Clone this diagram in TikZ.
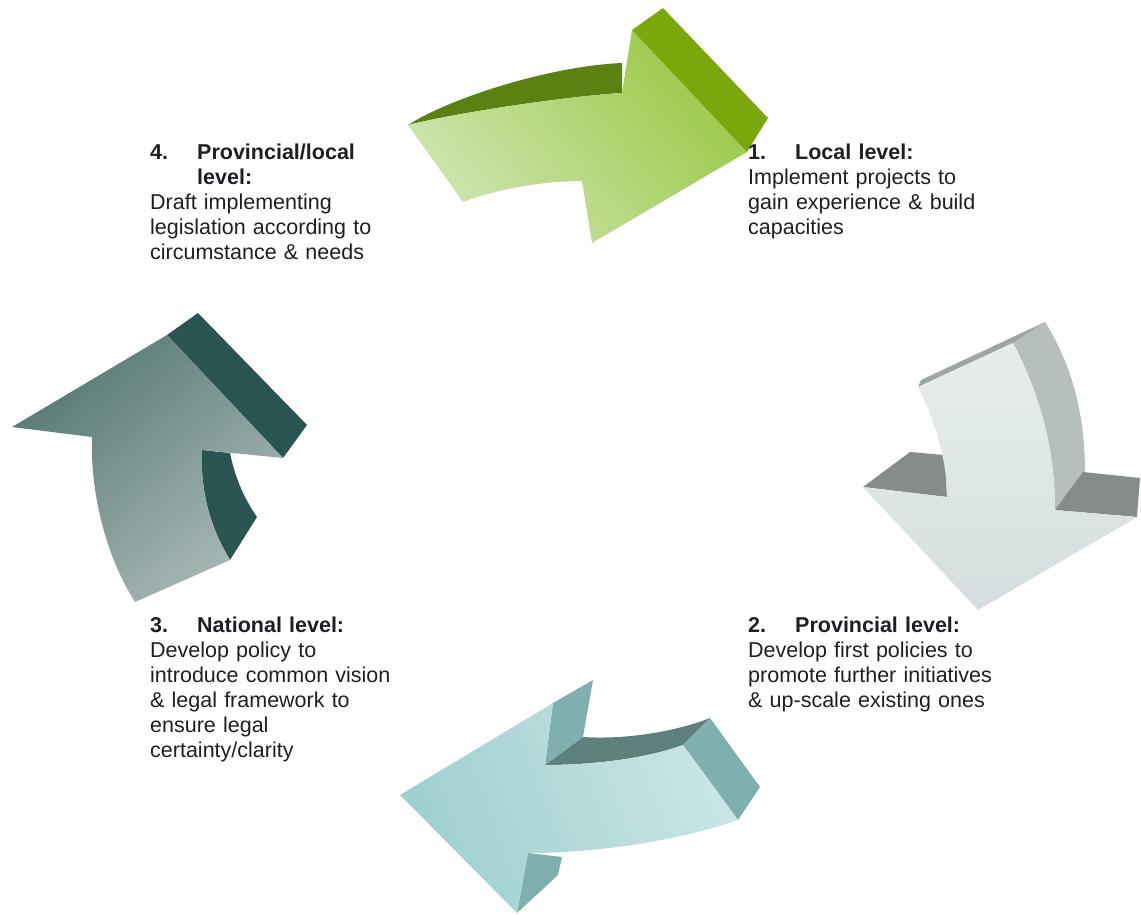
\documentclass[tikz,border=0pt]{standalone}
\usepackage{fontspec}
\setmainfont{Liberation Sans}
\definecolor{txt}{HTML}{1E1E24}
\definecolor{gA}{HTML}{CDE5B0}
\definecolor{gB}{HTML}{9BC947}
\definecolor{gDark}{HTML}{5A8212}
\definecolor{gSide}{HTML}{7AA70B}
\definecolor{sA}{HTML}{E7EDED}
\definecolor{sB}{HTML}{D5DEDE}
\definecolor{sSide}{HTML}{B7BFBE}
\definecolor{sWing}{HTML}{868C8B}
\definecolor{sTop}{HTML}{9EA6A5}
\definecolor{tA}{HTML}{9FCFCF}
\definecolor{tB}{HTML}{CAE5E5}
\definecolor{tSide}{HTML}{7FB0AF}
\definecolor{tDark}{HTML}{5E807D}
\definecolor{dA}{HTML}{587974}
\definecolor{dB}{HTML}{A9B9B7}
\definecolor{dSide}{HTML}{2A5452}
\begin{document}
\begin{tikzpicture}[x=1pt,y=-1pt,
  lbl/.style={anchor=base west, inner sep=0pt, text width=330pt, align=left,
              font=\fontsize{21.5}{25}\selectfont, text=txt},
  face/.style={draw=none}]
\useasboundingbox (0,0) rectangle (1141,915);

% ---------- Arrow 1 (green, top) ----------
\fill[gDark] (408,125) .. controls (450,98) and (550,66) .. (622,63) -- (622,93)
   .. controls (570,96) and (460,112) .. (408,125) -- cycle;
\shade[face, top color=gB, bottom color=gA, shading angle=-50]
   (408,125) -- (463,202) .. controls (495,190) and (540,181) .. (582,181) -- (592,243)
   -- (747,152) -- (632,30) -- (622,93) .. controls (570,96) and (460,112) .. (408,125) -- cycle;
\fill[gSide] (632,30) -- (663,8) -- (768,118) -- (747,152) -- cycle;

% ---------- Arrow 2 (light grey, right) ----------
\fill[sSide] (1013,343) -- (1045,322) .. controls (1070,362) and (1085,410) .. (1085,472)
   -- (1055,510) .. controls (1055,440) and (1035,385) .. (1013,343) -- cycle;
\fill[sTop] (918,387) -- (1013,343) -- (1045,322) -- (921,380) -- cycle;
\fill[sWing] (945,455) -- (910,452) -- (863,487) -- (947,497) -- cycle;
\fill[sWing] (1055,510) -- (1083,472) -- (1140,478) -- (1137,517) -- cycle;
\shade[face, top color=sA, bottom color=sB]
   (918,387) -- (1013,343) .. controls (1035,385) and (1055,440) .. (1055,510) -- (1137,517)
   -- (978,610) -- (863,487) -- (947,497) .. controls (947,460) and (935,420) .. (918,387) -- cycle;

% ---------- Arrow 3 (teal, bottom) ----------
\fill[tDark] (545,765) -- (583,737) .. controls (630,740) and (680,730) .. (710,718) -- (683,745)
   .. controls (650,757) and (600,765) .. (545,765) -- cycle;
\fill[tSide] (553,703) -- (593,680) -- (583,737) -- (545,765) -- cycle;
\fill[tSide] (683,745) -- (710,718) -- (760,787) -- (738,820) -- cycle;
\fill[tSide] (528,853) -- (562,857) -- (558,875) -- (517,913) -- cycle;
\shade[face, left color=tA, right color=tB, shading angle=110]
   (400,795) -- (553,703) -- (545,765) .. controls (600,765) and (650,757) .. (683,745)
   -- (738,820) .. controls (680,840) and (600,853) .. (528,853) -- (517,913) -- cycle;

% ---------- Arrow 4 (dark teal, left) ----------
\fill[dSide] (167,335) -- (198,313) -- (307,425) -- (283,458) -- cycle;
\fill[dSide] (202,450) -- (230,453) .. controls (235,478) and (245,500) .. (257,517) -- (230,560)
   .. controls (212,530) and (200,495) .. (202,450) -- cycle;
\shade[face, top color=dA, bottom color=dB, shading angle=40]
   (12,427) -- (167,335) -- (283,458) -- (202,450) .. controls (200,495) and (212,530) .. (230,560)
   -- (135,602) .. controls (105,555) and (90,490) .. (92,437) -- cycle;

% ---------- Texts ----------
\node[lbl] (t1) at (748,160) {\makebox[47pt][l]{\textbf{1.}}\textbf{Local level:}\\
  Implement projects to\\ gain experience \& build\\ capacities};
\node[lbl] (t2) at (748,632) {\makebox[47pt][l]{\textbf{2.}}\textbf{Provincial level:}\\
  Develop first policies to\\ promote further initiatives\\ \& up-scale existing ones};
\node[lbl] (t3) at (150,632) {\makebox[47pt][l]{\textbf{3.}}\textbf{National level:}\\
  Develop policy to\\ introduce common vision\\ \& legal framework to\\ ensure legal\\ certainty/clarity};
\node[lbl] (t4) at (150,160) {\makebox[47pt][l]{\textbf{4.}}\textbf{Provincial/local}\\
  \hspace*{47pt}\textbf{level:}\\ Draft implementing\\ legislation according to\\ circumstance \& needs};
\end{tikzpicture}
\end{document}
